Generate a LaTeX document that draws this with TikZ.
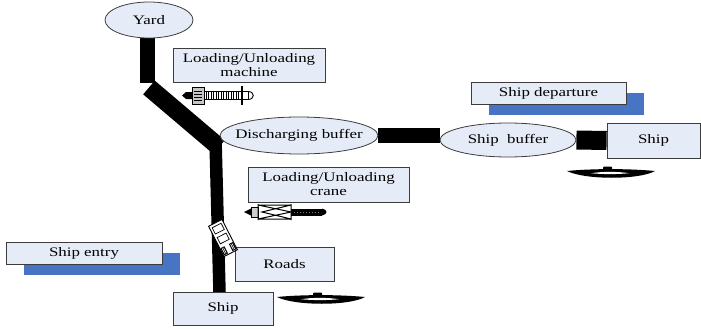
\documentclass[tikz,border=0pt]{standalone}
\usepackage{fontspec}
\setmainfont[FakeStretch=1.3]{Liberation Serif}
\usetikzlibrary{shapes.geometric,backgrounds}

\definecolor{boxfill}{RGB}{230,236,247}
\definecolor{boxline}{RGB}{60,60,60}
\definecolor{shadowblue}{RGB}{71,117,196}

% ellipse size is fixed by minimum width/height; the label does not widen it
\newcommand{\pilltext}[1]{\makebox[0pt]{#1}}

\tikzset{
  lab/.style={font=\fontsize{13}{14}\selectfont, align=center, text=black},
  pill/.style={ellipse, draw=boxline, fill=boxfill, line width=0.8pt, inner sep=0pt, lab},
  card/.style={rectangle, draw=boxline, fill=boxfill, line width=0.8pt, inner sep=0pt, lab},
  road/.style={draw=black, line width=#1, line cap=butt},
  boat/.pic={
    \fill[black] (0,0) .. controls (25,-2.5) and (62,-2.5) .. (88,0)
                 .. controls (72,9) and (18,9) .. cycle;
    \fill[white] (24,2.2) .. controls (36,0.4) and (50,0.4) .. (62,2.2)
                 .. controls (50,3.4) and (36,3.4) .. cycle;
    \fill[black, rounded corners=1pt] (36,-4.5) rectangle (45,-1);
  }
}

\begin{document}
\begin{tikzpicture}[x=1pt, y=-1pt]
  \useasboundingbox (0,0) rectangle (701,329);

  % places
  \node[pill, minimum width=88pt, minimum height=36pt] (yard) at (149,20) {\pilltext{Yard}};
  \node[pill, minimum width=158pt, minimum height=37pt] (dis) at (299,135.5) {\pilltext{Discharging buffer}};
  \node[pill, minimum width=136pt, minimum height=34pt] (sbuf) at (508,140) {\pilltext{Ship~ buffer}};
  \node[card, minimum width=93pt, minimum height=35pt] (shipR) at (653.5,140.5) {Ship};
  \node[card, minimum width=100pt, minimum height=33pt] (shipB) at (223,308.5) {Ship};

  % labels
  \node[card, minimum width=152pt, minimum height=34pt] (mach) at (249,65) {Loading/Unloading\\machine};
  \node[card, minimum width=161pt, minimum height=35pt] (crane) at (328.5,184.5) {Loading/Unloading\\crane};
  \node[card, minimum width=99pt, minimum height=34pt] (roads) at (284.5,264) {Roads};
  \node[card, minimum width=155pt, minimum height=22pt] (dep) at (548.5,93) {Ship departure};
  \node[card, minimum width=156pt, minimum height=22pt] (entry) at (84,253) {Ship entry};

  % route points of the yard road
  \coordinate (r1) at (147,83);
  \coordinate (r2) at (149,87.5);
  \coordinate (r3) at (219,147);
  \coordinate (r4) at (215.5,140);
  \coordinate (r5) at (219.5,292);

  \begin{scope}[on background layer]
    % roads
    \draw[road=15pt] (yard.south -| r1) -- (r1);
    \draw[road=18pt] (r2) -- (r3);
    \draw[road=12.5pt] (r4) -- (r5);
    \draw[road=15pt] (dis.east) -- (dis.east -| sbuf.west);
    \draw[road=19pt] (sbuf.east) -- (shipR.west);
    % offset shadows
    \fill[shadowblue] ([shift={(18,11)}]dep.south west) rectangle ([shift={(18,11)}]dep.north east);
    \fill[shadowblue] ([shift={(18,11)}]entry.south west) rectangle ([shift={(18,11)}]entry.north east);
  \end{scope}

  % loading/unloading machine
  \fill[black] (182,95.5) -- (186,92) -- (192,92) -- (192,99) -- (186,99) -- cycle;
  \draw[fill=gray!45, line width=0.9pt] (192,87.5) rectangle (204,104.5);
  \foreach \yy in {91,94,97,100} \draw[line width=0.5pt] (194,\yy) -- (202,\yy);
  \draw[fill=white, line width=0.9pt] (204,91.5) rectangle (248,99.5);
  \foreach \xx in {206,208.5,...,240} \draw[line width=0.6pt] (\xx,91.5) -- (\xx,99.5);
  \draw[line width=0.9pt] (248,91.5) .. controls (255,91.5) and (255,99.5) .. (248,99.5);
  \draw[line width=1.4pt] (242,86) -- (242,105);

  % loading/unloading crane
  \fill[black] (244,212) -- (251,208.5) -- (251,215.5) -- cycle;
  \draw[fill=gray!40, line width=0.6pt] (251,207) rectangle (258,217);
  \draw[line width=1pt] (258,204) -- (258,220) (291,204) -- (291,220)
                        (258,205) -- (291,205) (258,219) -- (291,219)
                        (258,205) -- (291,212) -- (258,219)
                        (291,205) -- (262,212) -- (291,219);
  \fill[black] (291,208.5) rectangle (322,215.5);
  \fill[black] (322,208.5) .. controls (328,209.5) and (328,214.5) .. (322,215.5) -- cycle;
  \foreach \xx in {294,297,...,318} \fill[gray] (\xx,211.5) rectangle +(1,1);

  % truck on the road
  \begin{scope}[shift={(223,238)}, rotate=27]
    \draw[fill=white, line width=0.9pt] (-7.5,-17) rectangle (7.5,17);
    \draw[line width=0.7pt] (-5,-14) rectangle (5,-7);
    \draw[line width=0.7pt] (-5,-3) rectangle (5,4);
    \fill[black] (-7,8) rectangle (-2.5,16);
    \fill[black] (2.5,8) rectangle (7,16);
    \draw[white, line width=0.6pt] (-5.5,9) -- (-5.5,15) (-4,9) -- (-4,15)
                                   (4,9) -- (4,15) (5.5,9) -- (5.5,15);
  \end{scope}

  % ships
  \pic at (277,297) {boat};
  \pic at (567,171) {boat};
\end{tikzpicture}
\end{document}
